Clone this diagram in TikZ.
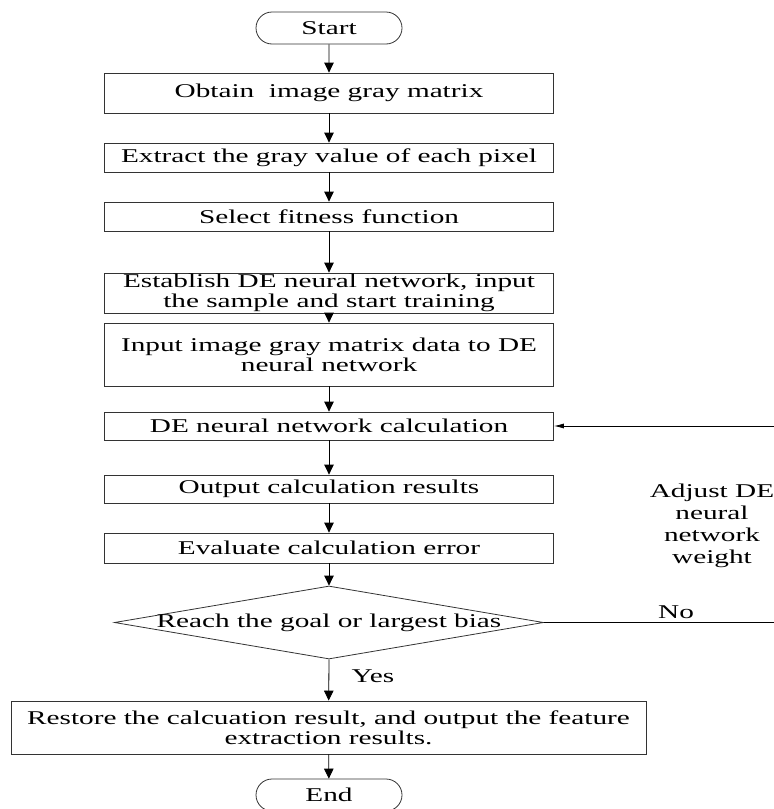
\documentclass[tikz,border=0pt]{standalone}
\usepackage{fontspec}
\setmainfont{Liberation Serif}[FakeStretch=1.5]
\usetikzlibrary{shapes.geometric,shapes.misc,arrows.meta}
\begin{document}
\begin{tikzpicture}[x=1pt,y=-1pt,
  every node/.style={font=\fontsize{19.5}{20}\selectfont},
  proc/.style={draw=black!80, line width=0.8pt, rectangle, minimum width=449pt, inner sep=0pt, align=center},
  term/.style={draw=black!80, line width=0.8pt, rounded rectangle, minimum width=146pt, minimum height=32pt, inner sep=0pt},
  arr/.style={line width=0.8pt, -{Triangle[length=10pt,width=9.5pt]}},
  fbarr/.style={line width=0.8pt, -{Latex[length=10pt,width=5pt]}},
  lbl/.style={inner sep=0pt, align=center}]
\useasboundingbox (0,0) rectangle (774,809);
\node[term] (start) at (329,28) {Start};
\node[proc, minimum height=40pt] (b1) at (329,93) {Obtain\ \ image gray matrix};
\node[proc, minimum height=29pt] (b2) at (329,157.5) {Extract the gray value of each pixel};
\node[proc, minimum height=29pt] (b3) at (329,216.5) {Select fitness function};
\node[proc, minimum height=40pt] (b4) at (329,293) {Establish DE neural network, input\\the sample and start training};
\node[proc, minimum height=63pt] (b5) at (329,354.5) {Input image gray matrix data to DE\\neural network};
\node[proc, minimum height=28pt] (b6) at (329,426) {DE neural network calculation};
\node[proc, minimum height=28pt] (b7) at (329,489) {Output calculation results};
\node[proc, minimum height=30pt] (b8) at (329,548) {Evaluate calculation error};
\node[draw=black!80, line width=0.8pt, diamond, minimum width=429pt, minimum height=73pt, inner sep=0pt] (dec) at (329,622.5) {};
\node[lbl] (dectext) at (dec.center) {Reach the goal or largest bias};
\node[proc, minimum width=635pt, minimum height=53pt] (b9) at (328.5,727.5) {Restore the calcuation result, and output the feature\\extraction results.};
\node[term] (end) at (329,795) {End};
\node[lbl] (no) at (676,612) {No};
\node[lbl] (yes) at (373,676) {Yes};
\node[lbl, font=\fontsize{19.5}{22}\selectfont] (adj) at (712,526) {Adjust DE\\neural\\network\\weight};
\coordinate (fb) at (776,622.5);
\draw[arr] (start) -- (b1);
\draw[arr] (b1) -- (b2);
\draw[arr] (b2) -- (b3);
\draw[arr] (b3) -- (b4);
\draw[arr] (b4) -- (b5);
\draw[arr] (b5) -- (b6);
\draw[arr] (b6) -- (b7);
\draw[arr] (b7) -- (b8);
\draw[arr] (b8) -- (dec.north);
\draw[arr] (dec.south) -- (b9);
\draw[arr] (b9) -- (end);
\draw[fbarr] (dec.east) -- (fb) |- (b6.east);
\end{tikzpicture}
\end{document}
